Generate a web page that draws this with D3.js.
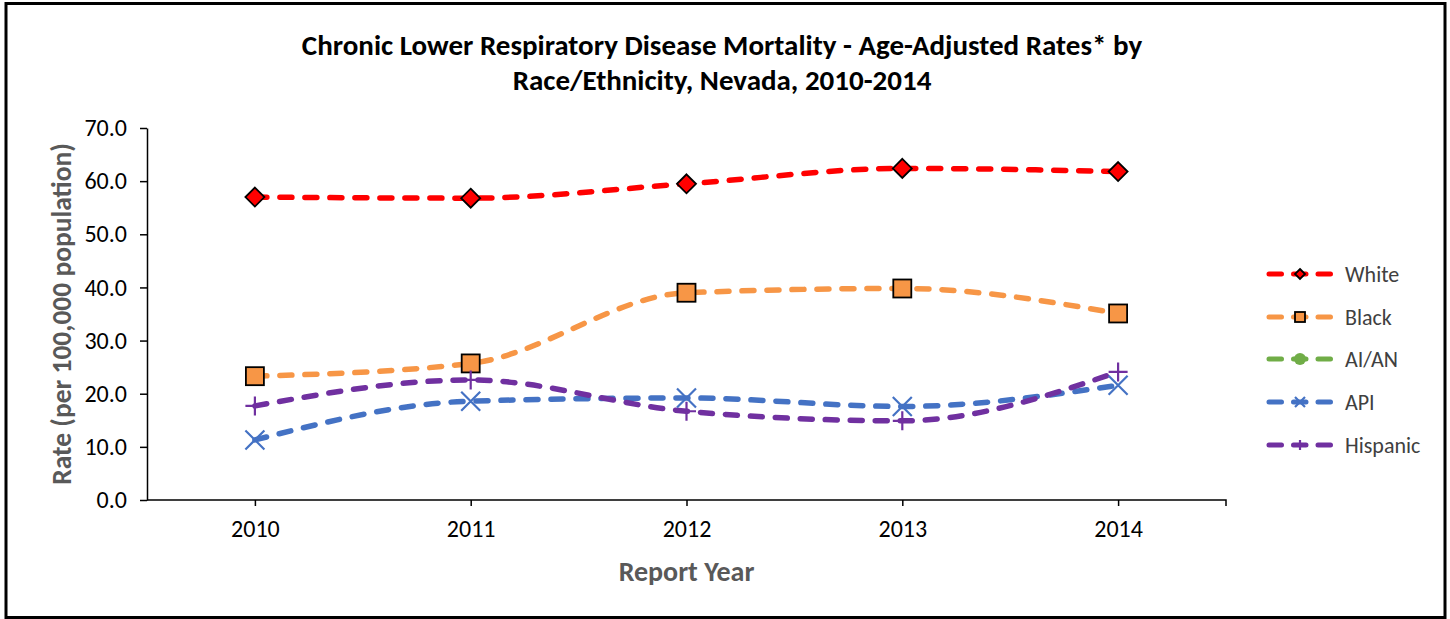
<!DOCTYPE html>
<html>
<head>
<meta charset="utf-8">
<script src="https://cdn.jsdelivr.net/npm/d3@7"></script>
<style>
  body { margin: 0; background: #fff; }
  text { font-family: Carlito, Calibri, "Open Sans", sans-serif; }
</style>
</head>
<body>
<div id="chart"></div>
<script>
const years = ["2010", "2011", "2012", "2013", "2014"];
const seriesNames = ["White", "Black", "AI/AN", "API", "Hispanic"];
const white = [57.0, 56.8, 59.5, 62.4, 61.8];
const black = [23.3, 25.7, 39.0, 39.8, 35.1];
const aian = [];   // no values plotted, legend only
const api = [11.3, 18.6, 19.2, 17.6, 21.6];
const hispanic = [17.7, 22.6, 16.7, 14.9, 24.1];
const yTicks = [0, 10, 20, 30, 40, 50, 60, 70];

const colors = ["#ff0000", "#f79646", "#70ad47", "#4472c4", "#7030a0"];
const markers = ["diamond", "square", "circle", "x", "plus"];
const allValues = [white, black, aian, api, hispanic];

const W = 1450, H = 619;
const margin = { top: 128, right: 224, bottom: 119, left: 147 };
const width = W - margin.left - margin.right;
const height = H - margin.top - margin.bottom;

const svg = d3.select("#chart").append("svg")
  .attr("width", W)
  .attr("height", H);

// outer frame
svg.append("rect")
  .attr("x", 6).attr("y", 3.5)
  .attr("width", 1439).attr("height", 614)
  .attr("fill", "none").attr("stroke", "#000").attr("stroke-width", 3);

// title
const title = svg.append("text")
  .attr("text-anchor", "middle")
  .attr("font-weight", "bold")
  .attr("font-size", "29px")
  .attr("fill", "#000");
title.append("tspan").attr("x", 722).attr("y", 55)
  .text("Chronic Lower Respiratory Disease Mortality - Age-Adjusted Rates* by");
title.append("tspan").attr("x", 722).attr("y", 90)
  .text("Race/Ethnicity, Nevada, 2010-2014");

const g = svg.append("g")
  .attr("transform", `translate(${margin.left},${margin.top})`);

const x = d3.scalePoint().domain(years).range([0, width]).padding(0.5);
const y = d3.scaleLinear().domain([0, 70]).range([height, 0]);

// y axis
const yAxis = g.append("g")
  .call(d3.axisLeft(y).tickValues(yTicks).tickFormat(d3.format(".1f")).tickSize(7).tickSizeOuter(0).tickPadding(13));
yAxis.selectAll("text").attr("font-size", "24px").attr("fill", "#000");
yAxis.selectAll("line, path").attr("stroke", "#000").attr("stroke-width", 1.5);

// x axis
const xAxis = g.append("g")
  .attr("transform", `translate(0,${height})`)
  .call(d3.axisBottom(x).tickSize(6).tickSizeOuter(6).tickPadding(14));
xAxis.selectAll("text").attr("font-size", "24px").attr("fill", "#000");
xAxis.selectAll("line, path").attr("stroke", "#000").attr("stroke-width", 1.5);
// remove the left outer tick, keep the right one
xAxis.select("path").attr("d", `M0,0H${width}V6`);

// axis titles
svg.append("text")
  .attr("transform", `translate(71,${margin.top + height / 2}) rotate(-90)`)
  .attr("text-anchor", "middle")
  .attr("font-weight", "bold")
  .attr("font-size", "27.5px")
  .attr("fill", "#595959")
  .text("Rate (per 100,000 population)");

svg.append("text")
  .attr("x", margin.left + width / 2)
  .attr("y", 581)
  .attr("text-anchor", "middle")
  .attr("font-weight", "bold")
  .attr("font-size", "28px")
  .attr("fill", "#595959")
  .text("Report Year");

function drawMarker(sel, type, color, s) {
  if (type === "diamond") {
    sel.append("path")
      .attr("d", `M0,${-s}L${s},0L0,${s}L${-s},0Z`)
      .attr("fill", color).attr("stroke", "#000").attr("stroke-width", 1.8);
  } else if (type === "square") {
    sel.append("rect")
      .attr("x", -s).attr("y", -s).attr("width", 2 * s).attr("height", 2 * s)
      .attr("fill", color).attr("stroke", "#000").attr("stroke-width", 1.8);
  } else if (type === "circle") {
    sel.append("circle").attr("r", s).attr("fill", color);
  } else if (type === "x") {
    sel.append("path")
      .attr("d", `M${-s},${-s}L${s},${s}M${-s},${s}L${s},${-s}`)
      .attr("stroke", color).attr("stroke-width", 2.2).attr("fill", "none");
  } else if (type === "plus") {
    sel.append("path")
      .attr("d", `M${-s},0L${s},0M0,${-s}L0,${s}`)
      .attr("stroke", color).attr("stroke-width", 2.2).attr("fill", "none");
  }
}

const line = d3.line()
  .x((d, i) => x(years[i]))
  .y(d => y(d))
  .curve(d3.curveMonotoneX);

allValues.forEach((vals, k) => {
  if (!vals.length) return;
  g.append("path")
    .datum(vals)
    .attr("d", line)
    .attr("fill", "none")
    .attr("stroke", colors[k])
    .attr("stroke-width", 5.5)
    .attr("stroke-linecap", "round")
    .attr("stroke-dasharray", "12,13");
});

// markers on top
allValues.forEach((vals, k) => {
  vals.forEach((v, i) => {
    const m = g.append("g").attr("transform", `translate(${x(years[i])},${y(v)})`);
    const size = markers[k] === "square" ? 9 : 9.5;
    drawMarker(m, markers[k], colors[k], size);
  });
});

// legend
const legendY = [274, 317, 359, 402, 445];
seriesNames.forEach((name, k) => {
  const lg = svg.append("g").attr("transform", `translate(1267,${legendY[k]})`);
  lg.append("line")
    .attr("x1", 2).attr("x2", 64).attr("y1", 0).attr("y2", 0)
    .attr("stroke", colors[k]).attr("stroke-width", 5)
    .attr("stroke-linecap", "round")
    .attr("stroke-dasharray", "12.5,12");
  const mk = lg.append("g").attr("transform", "translate(33,0)");
  drawMarker(mk, markers[k], colors[k], markers[k] === "circle" ? 6 : 5);
  lg.append("text")
    .attr("x", 78).attr("y", 8)
    .attr("font-size", "22px")
    .attr("fill", "#404040")
    .text(name);
});
</script>
</body>
</html>
